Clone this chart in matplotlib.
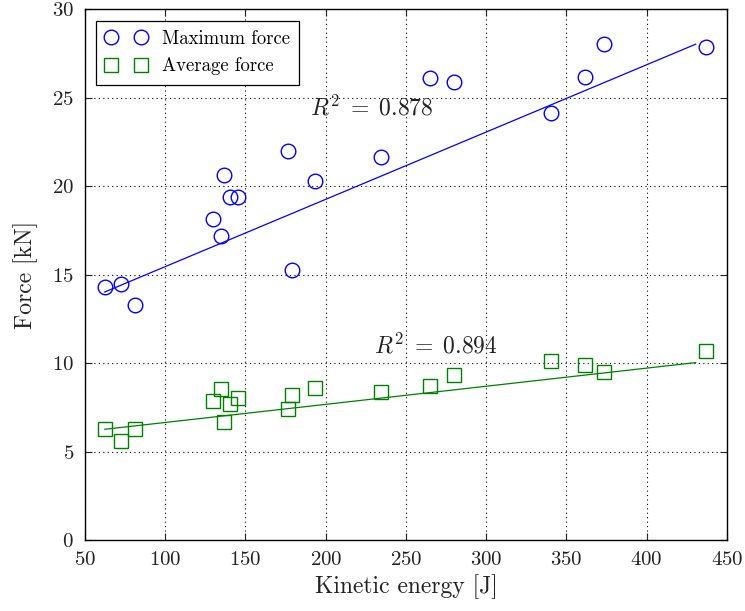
import matplotlib
matplotlib.use("Agg")
import matplotlib.pyplot as plt
import numpy as np

plt.rcParams["font.family"] = ["cmr10", "DejaVu Serif"]
plt.rcParams["mathtext.fontset"] = "cm"
plt.rcParams["axes.formatter.use_mathtext"] = True

# Kinetic energy of each test [J]
energy = [62.3, 72.3, 81.2, 130.0, 134.8, 136.7, 140.6, 145.6, 176.6,
          179.1, 193.6, 234.4, 265.1, 280.0, 340.1, 361.7, 373.3, 437.2]
# Peak force [kN]
max_force = [14.31, 14.46, 13.30, 18.12, 17.18, 20.64, 19.37, 19.40, 21.97,
             15.25, 20.29, 21.65, 26.10, 25.89, 24.15, 26.17, 28.02, 27.85]
# Mean force [kN]
avg_force = [6.30, 5.62, 6.30, 7.83, 8.56, 6.66, 7.66, 8.00, 7.43,
             8.22, 8.58, 8.37, 8.73, 9.30, 10.12, 9.92, 9.49, 10.69]

# Linear fits (slope, intercept) and the energy range they are drawn over
fit_max = (0.03804, 11.65)
fit_avg = (0.01024, 5.62)
fit_range = (62.3, 430.5)
r2_max = 0.878
r2_avg = 0.894

xticks = [50, 100, 150, 200, 250, 300, 350, 400, 450]
yticks = [0, 5, 10, 15, 20, 25, 30]

fig = plt.figure(figsize=(7.45, 6.11), dpi=100)
ax = fig.add_axes([0.1141, 0.1162, 0.8617, 0.8686])

blue = "#0000ff"
green = "#008000"

ax.plot(energy, max_force, linestyle="none", marker="o", markersize=10.5,
        markerfacecolor="none", markeredgecolor=blue, markeredgewidth=1.0,
        label="Maximum force")
ax.plot(energy, avg_force, linestyle="none", marker="s", markersize=10,
        markerfacecolor="none", markeredgecolor=green, markeredgewidth=1.0,
        label="Average force")

xf = np.array(fit_range)
ax.plot(xf, fit_max[0] * xf + fit_max[1], color=blue, linewidth=0.9)
ax.plot(xf, fit_avg[0] * xf + fit_avg[1], color=green, linewidth=0.9)

ax.text(190.3, 24.02, r"$R^2 \;=\; %.3f$" % r2_max, fontsize=17,
        color="#222222", va="baseline", ha="left")
ax.text(230.2, 10.54, r"$R^2 \;=\; %.3f$" % r2_avg, fontsize=17,
        color="#222222", va="baseline", ha="left")

ax.set_xlim(50, 450)
ax.set_ylim(0, 30)
ax.set_xticks(xticks)
ax.set_yticks(yticks)
ax.tick_params(direction="in", length=5, width=0.8, labelsize=15,
               top=True, right=True, pad=8, colors="#222222")
ax.grid(True, color="black", linestyle=(0, (1, 3)), linewidth=0.8)
for s in ax.spines.values():
    s.set_linewidth(1.0)
    s.set_color("black")

ax.set_xlabel("Kinetic energy [J]", fontsize=17, color="#222222", labelpad=4)
ax.set_ylabel("Force [kN]", fontsize=17, color="#222222", labelpad=10)

leg = ax.legend(loc="upper left", numpoints=2, fontsize=13.5, frameon=True,
                fancybox=False, edgecolor="black", framealpha=1,
                borderpad=0.5, handlelength=2.2, handletextpad=0.8,
                borderaxespad=0.6)
leg.get_frame().set_linewidth(0.9)

fig.savefig("out.png", dpi=100)
